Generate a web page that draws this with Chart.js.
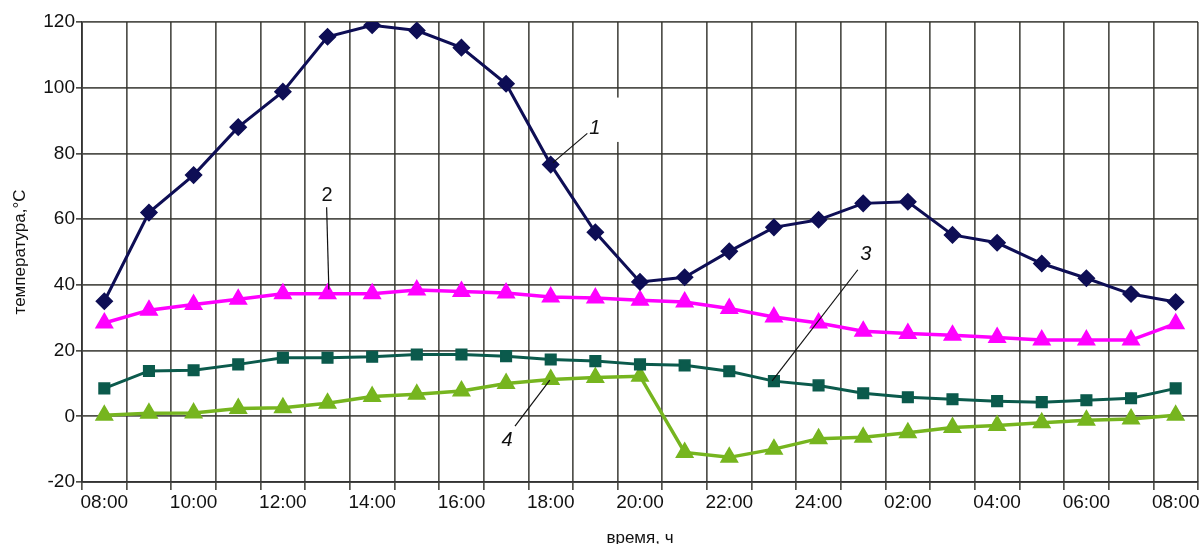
<!DOCTYPE html>
<html>
<head>
<meta charset="utf-8">
<script src="https://cdn.jsdelivr.net/npm/chart.js@4.4.1/dist/chart.umd.min.js"></script>
<style>
    body { margin: 0; background: #fff; }
</style>
</head>
<body>
<canvas id="temp-chart" width="1200" height="544"></canvas>
<script>
// Data
const hours = [
    '08:00', '09:00', '10:00', '11:00', '12:00', '13:00', '14:00', '15:00', '16:00',
    '17:00', '18:00', '19:00', '20:00', '21:00', '22:00', '23:00', '24:00', '01:00',
    '02:00', '03:00', '04:00', '05:00', '06:00', '07:00', '08:00'
];
const curve1 = [35, 62, 73.4, 88, 98.8, 115.5, 119, 117.4, 112.2, 101.2, 76.6, 56, 40.9,
    42.3, 50.2, 57.5, 59.8, 64.8, 65.3, 55.2, 52.8, 46.5, 42, 37.2, 34.8];
const curve2 = [28.4, 32.3, 34, 35.6, 37.3, 37.3, 37.3, 38.4, 38, 37.5, 36.3, 36, 35.3,
    34.8, 32.8, 30.2, 28.4, 25.9, 25.2, 24.7, 24, 23.2, 23.2, 23.2, 28.2];
const curve3 = [8.5, 13.8, 14, 15.8, 17.8, 17.8, 18.1, 18.8, 18.8, 18.3, 17.3, 16.8, 15.8,
    15.5, 13.7, 10.7, 9.4, 7, 5.8, 5.2, 4.6, 4.3, 4.9, 5.5, 8.5];
const curve4 = [0.3, 0.9, 1, 2.4, 2.6, 4, 6, 6.7, 7.7, 10, 11.2, 11.8, 12.2,
    -11, -12.5, -10, -6.8, -6.4, -5, -3.4, -2.8, -2, -1.2, -0.8, 0.3];
const yTicks = [-20, 0, 20, 40, 60, 80, 100, 120];

// Curve numbers with leader lines (category index, value)
const callouts = [
    { text: '1', italic: true, at: [10.99, 87.7], from: [10.05, 77.2], to: [10.82, 86.1] },
    { text: '2', italic: false, at: [4.99, 67.3], from: [4.98, 63.6], to: [5.03, 38.6] },
    { text: '3', italic: true, at: [17.06, 49.4], from: [16.88, 44.6], to: [14.96, 10.8] },
    { text: '4', italic: true, at: [9.02, -7.3], from: [9.2, -3], to: [9.98, 11] }
];

const gridColor = 'rgba(50, 50, 45, 0.85)';
const fontFamily = '"Liberation Sans", Arial, sans-serif';

const calloutPlugin = {
    id: 'callouts',
    beforeDatasetsDraw: chart => {
        // blank patch behind label 1
        const { ctx, scales: { x, y } } = chart;
        ctx.save();
        ctx.fillStyle = '#fff';
        const x0 = x.getPixelForValue(11.25), x1 = x.getPixelForValue(11.8);
        const y0 = y.getPixelForValue(97), y1 = y.getPixelForValue(83.5);
        ctx.fillRect(x0, y0, x1 - x0, y1 - y0);
        ctx.restore();
    },
    afterDatasetsDraw: chart => {
        const { ctx, scales: { x, y } } = chart;
        ctx.save();
        ctx.strokeStyle = '#111';
        ctx.lineWidth = 1.2;
        ctx.fillStyle = '#111';
        ctx.textAlign = 'center';
        ctx.textBaseline = 'middle';
        callouts.forEach(c => {
            ctx.beginPath();
            ctx.moveTo(x.getPixelForValue(c.from[0]), y.getPixelForValue(c.from[1]));
            ctx.lineTo(x.getPixelForValue(c.to[0]), y.getPixelForValue(c.to[1]));
            ctx.stroke();
            ctx.font = (c.italic ? 'italic ' : '') + '20px ' + fontFamily;
            ctx.fillText(c.text, x.getPixelForValue(c.at[0]), y.getPixelForValue(c.at[1]));
        });
        ctx.restore();
    }
};

const series = (data, color, style, radius, width) => ({
    data: data,
    borderColor: color,
    backgroundColor: color,
    borderWidth: width,
    pointStyle: style,
    pointRadius: radius,
    pointBorderWidth: 1.5,
    pointBackgroundColor: color,
    pointBorderColor: color,
    tension: 0
});

new Chart(document.getElementById('temp-chart'), {
    type: 'line',
    data: {
        labels: hours,
        datasets: [
            series(curve1, '#0e0e55', 'rectRot', 8, 3),
            series(curve2, '#ff00ff', 'triangle', 9.5, 3.5),
            series(curve3, '#0b5a4c', 'rect', 7.5, 3),
            series(curve4, '#76b51f', 'triangle', 9.5, 3.5)
        ]
    },
    options: {
        responsive: false,
        animation: false,
        devicePixelRatio: 1,
        layout: { autoPadding: false, padding: { top: 22, right: 2, bottom: 0, left: 0 } },
        plugins: {
            legend: { display: false },
            tooltip: { enabled: false }
        },
        scales: {
            x: {
                offset: true,
                grid: { offset: true, color: gridColor, lineWidth: 1.7, tickLength: 8, tickColor: gridColor },
                border: { color: '#333', width: 1.7 },
                ticks: {
                    autoSkip: false,
                    maxRotation: 0,
                    padding: 1,
                    color: '#111',
                    font: { family: fontFamily, size: 19 },
                    callback: (v, i) => i % 2 === 0 ? hours[i] : ''
                },
                title: {
                    display: true,
                    text: 'время, ч',
                    color: '#111',
                    padding: { top: 0, bottom: -3 },
                    font: { family: fontFamily, size: 17, lineHeight: 1 }
                },
                afterFit: scale => {
                    scale.height = 62;
                    scale.paddingLeft = 0;
                    scale.paddingRight = 0;
                }
            },
            y: {
                min: yTicks[0],
                max: yTicks[yTicks.length - 1],
                afterBuildTicks: scale => { scale.ticks = yTicks.map(v => ({ value: v })); },
                grid: { color: gridColor, lineWidth: 1.7, tickLength: 6, tickColor: gridColor },
                border: { color: '#333', width: 1.7 },
                ticks: {
                    padding: 1,
                    color: '#111',
                    font: { family: fontFamily, size: 19 }
                },
                title: {
                    display: true,
                    text: 'температура,°C',
                    color: '#111',
                    padding: { top: 10, bottom: 0 },
                    font: { family: fontFamily, size: 17 }
                },
                afterFit: scale => { scale.width = 82; }
            }
        }
    },
    plugins: [calloutPlugin]
});
</script>
</body>
</html>
